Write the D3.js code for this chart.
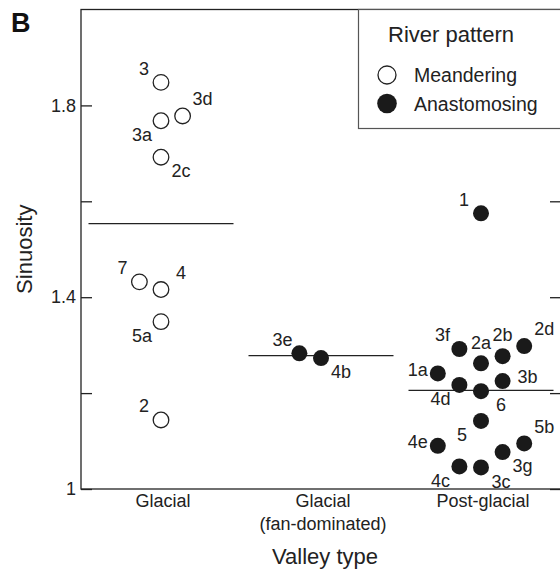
<!DOCTYPE html>
<html>
<head>
<meta charset="utf-8">
<script src="https://cdn.jsdelivr.net/npm/d3@7"></script>
<style>
  html, body { margin: 0; padding: 0; background: #fff; }
  svg { display: block; font-family: "Liberation Sans", Arial, Helvetica, sans-serif; }
</style>
</head>
<body>
<svg id="chart" width="560" height="569"></svg>
<script>
// Valley types along the x axis, with their two-line tick labels
const valleyTypes = ["Glacial", "Glacial (fan-dominated)", "Post-glacial"];
const valleyTickLines = [["Glacial"], ["Glacial", "(fan-dominated)"], ["Post-glacial"]];

// Sinuosity axis ticks; only some carry a number
const sinuosityTicks = [1, 1.2, 1.4, 1.6, 1.8];
const sinuosityTickLabels = [1, 1.4, 1.8];

// Glacial valleys (meandering reaches)
const glacialSites = ["3", "3a", "3d", "2c", "7", "4", "5a", "2"];
const glacialSinuosity = [1.848, 1.768, 1.778, 1.692, 1.432, 1.416, 1.349, 1.144];
const glacialSlot = [0, 0, 1, 0, -1, 0, 0, 0];
const glacialLabelAt = ["nw", "sw", "ne", "se", "nw", "ne", "sw", "nw"];

// Fan-dominated glacial valleys (anastomosing reaches)
const fanSites = ["3e", "4b"];
const fanSinuosity = [1.283, 1.273];
const fanSlot = [-1, 0];
const fanLabelAt = ["nw", "se"];

// Post-glacial valleys (anastomosing reaches)
const postSites = ["1", "3f", "2a", "2b", "2d", "1a", "4d", "6", "3b", "5", "4e", "5b", "3g", "4c", "3c"];
const postSinuosity = [1.575, 1.292, 1.262, 1.277, 1.298, 1.241, 1.217, 1.204, 1.225, 1.142, 1.090, 1.095, 1.077, 1.047, 1.045];
const postSlot = [0, -1, 0, 1, 2, -2, -1, 0, 1, 0, -2, 2, 1, -1, 0];
const postLabelAt = ["nw", "nw", "n", "n", "ne", "w", "sw", "se", "e", "sw", "w", "ne", "se", "sw", "se"];

// River pattern legend
const patterns = ["Meandering", "Anastomosing"];

function group(valley, pattern, sites, values, slots, labelAt) {
  return sites.map((s, i) => ({ valley, pattern, site: s, value: values[i], slot: slots[i], labelAt: labelAt[i] }));
}

const points = [
  ...group(valleyTypes[0], patterns[0], glacialSites, glacialSinuosity, glacialSlot, glacialLabelAt),
  ...group(valleyTypes[1], patterns[1], fanSites, fanSinuosity, fanSlot, fanLabelAt),
  ...group(valleyTypes[2], patterns[1], postSites, postSinuosity, postSlot, postLabelAt)
];

const svg = d3.select("#chart");
const ink = "#222";
const frame = { left: 81, right: 561, top: 9.5, bottom: 489 };

const x = d3.scaleBand().domain(valleyTypes).range([frame.left, frame.right]).padding(0);
const y = d3.scaleLinear().domain([1, 2]).range([frame.bottom, frame.top]);

const slotStep = 21.6;
const markR = 8;

// Label offsets (text centre relative to mark centre) for each placement code
const labelOffset = {
  n: [0, -21], ne: [20, -17], e: [25, -4], se: [20, 14],
  sw: [-19, 14], w: [-20, -4], nw: [-17, -14]
};

// Left and right sinuosity axes, ticks pointing inward
const yLeft = d3.axisLeft(y)
  .tickValues(sinuosityTicks)
  .tickSizeInner(-11).tickSizeOuter(0).tickPadding(5)
  .tickFormat(v => sinuosityTickLabels.includes(v) ? String(v) : "");
const yRight = d3.axisRight(y)
  .tickValues(sinuosityTicks)
  .tickSizeInner(-11).tickSizeOuter(0)
  .tickFormat(() => "");

function styleAxis(g) {
  g.select(".domain").remove();
  g.selectAll(".tick line").attr("stroke", ink).attr("stroke-width", 1.3);
  g.selectAll(".tick text").attr("fill", ink).attr("font-size", 18).attr("font-family", null);
}

svg.append("g").attr("transform", `translate(${frame.left},0)`).call(yLeft).call(styleAxis);
svg.append("g").attr("transform", `translate(${frame.right},0)`).call(yRight).call(styleAxis);

// Plot frame
svg.append("rect")
  .attr("x", frame.left).attr("y", frame.top)
  .attr("width", frame.right - frame.left).attr("height", frame.bottom - frame.top)
  .attr("fill", "none").attr("stroke", ink).attr("stroke-width", 1.3);

// Valley type tick labels
const xLab = svg.append("g").attr("fill", ink).attr("font-size", 18).attr("text-anchor", "middle");
valleyTypes.forEach((v, i) => {
  const t = xLab.append("text").attr("x", x(v) + x.bandwidth() / 2 + 2).attr("y", frame.bottom + 18);
  valleyTickLines[i].forEach((line, j) => {
    t.append("tspan").attr("x", x(v) + x.bandwidth() / 2 + 2).attr("dy", j === 0 ? 0 : 23).text(line);
  });
});

// Group mean lines
const meanHalf = 72.5;
valleyTypes.forEach(v => {
  const m = d3.mean(points.filter(p => p.valley === v), p => p.value);
  const cx = x(v) + x.bandwidth() / 2;
  svg.append("line")
    .attr("x1", cx - meanHalf).attr("x2", cx + meanHalf)
    .attr("y1", y(m)).attr("y2", y(m))
    .attr("stroke", ink).attr("stroke-width", 1.3);
});

// Site marks
const px = p => x(p.valley) + x.bandwidth() / 2 + p.slot * slotStep;
svg.append("g").selectAll("circle").data(points).join("circle")
  .attr("cx", px).attr("cy", p => y(p.value))
  .attr("r", p => p.pattern === patterns[0] ? markR - 0.2 : markR)
  .attr("fill", p => p.pattern === patterns[0] ? "#fff" : "#1a1a1a")
  .attr("stroke", p => p.pattern === patterns[0] ? ink : "none")
  .attr("stroke-width", 1.3);

// Site labels
svg.append("g").attr("fill", ink).attr("font-size", 18).attr("text-anchor", "middle")
  .selectAll("text").data(points).join("text")
  .attr("x", p => px(p) + labelOffset[p.labelAt][0])
  .attr("y", p => y(p.value) + labelOffset[p.labelAt][1])
  .attr("dy", "0.35em")
  .text(p => p.site);

// Legend
const lg = svg.append("g");
lg.append("rect")
  .attr("x", 358.5).attr("y", frame.top)
  .attr("width", frame.right + 5 - 358.5).attr("height", 128.5 - frame.top)
  .attr("fill", "#fff").attr("stroke", "#555").attr("stroke-width", 1.2);
lg.append("text").attr("x", 388).attr("y", 41.5)
  .attr("font-size", 22).attr("fill", ink).text("River pattern");
patterns.forEach((name, i) => {
  const cy = 75 + i * 28.5;
  lg.append("circle").attr("cx", 387).attr("cy", cy).attr("r", i === 0 ? 9 : 9.8)
    .attr("fill", i === 0 ? "#fff" : "#1a1a1a")
    .attr("stroke", i === 0 ? ink : "none").attr("stroke-width", 1.3);
  lg.append("text").attr("x", 414).attr("y", cy + 7)
    .attr("font-size", 19.5).attr("fill", ink).text(name);
});

// Axis titles and panel letter
svg.append("text")
  .attr("transform", `translate(32,${(frame.top + frame.bottom) / 2}) rotate(-90)`)
  .attr("text-anchor", "middle").attr("font-size", 22).attr("fill", ink).text("Sinuosity");
svg.append("text")
  .attr("x", (frame.left + frame.right) / 2 + 4).attr("y", 564)
  .attr("text-anchor", "middle").attr("font-size", 22).attr("fill", ink).text("Valley type");
svg.append("text")
  .attr("x", 11).attr("y", 32)
  .attr("font-size", 27).attr("font-weight", "bold").attr("fill", "#111").text("B");
</script>
</body>
</html>
